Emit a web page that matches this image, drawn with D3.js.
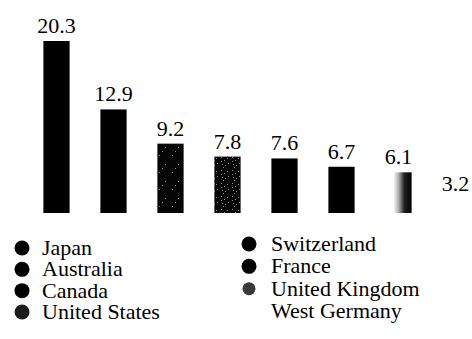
<!DOCTYPE html>
<html>
<head>
<meta charset="utf-8">
<script src="https://cdn.jsdelivr.net/npm/d3@7"></script>
</head>
<body style="margin:0">
<svg id="chart" width="472" height="339" style="display:block;background:#fff"></svg>
<script>
// Countries, in bar order
const countries = ["Japan", "Australia", "Canada", "United States",
                   "Switzerland", "France", "United Kingdom", "West Germany"];
// Values shown above each bar
const values = [20.3, 12.9, 9.2, 7.8, 7.6, 6.7, 6.1, 3.2];
// Fill used for each country (bar and legend marker)
const fills = ["solid", "solid", "grainLight", "grainHeavy",
               "solid", "solid", "fade", "none"];

const FONT = '"Liberation Serif", monospace';
// The last band runs past the right edge; its bar is blank and only its label shows
const plot = { left: 28, right: 484, top: 41, bottom: 213 };

const svg = d3.select("#chart");
const defs = svg.append("defs");

// Speckled fills
function grainPattern(id, w, h, dots) {
  const p = defs.append("pattern")
    .attr("id", id).attr("patternUnits", "userSpaceOnUse")
    .attr("width", w).attr("height", h);
  p.append("rect").attr("width", w).attr("height", h).attr("fill", "#050505");
  dots.forEach(([dx, dy]) => p.append("rect").attr("x", dx).attr("y", dy)
    .attr("width", 1).attr("height", 1).attr("fill", "#8a8a8a"));
}
grainPattern("grainLight", 13, 17, [[3, 2], [9, 11], [6, 15]]);
grainPattern("grainHeavy", 11, 13, [[1, 1], [4, 4], [2, 8], [7, 2], [3, 11], [8, 7], [5, 9], [1, 5]]);

const fade = defs.append("linearGradient").attr("id", "fade")
  .attr("x1", "0%").attr("x2", "100%").attr("y1", "0%").attr("y2", "0%");
fade.append("stop").attr("offset", "0%").attr("stop-color", "#fff");
fade.append("stop").attr("offset", "30%").attr("stop-color", "#fff");
fade.append("stop").attr("offset", "50%").attr("stop-color", "#b0b0b0");
fade.append("stop").attr("offset", "72%").attr("stop-color", "#222");
fade.append("stop").attr("offset", "100%").attr("stop-color", "#000");

function fillFor(kind) {
  if (kind === "solid") return "#000";
  if (kind === "none") return "#fff";
  return `url(#${kind})`;
}

const x = d3.scaleBand()
  .domain(countries)
  .range([plot.left, plot.right])
  .paddingInner(0.54)
  .paddingOuter(0.27);

const y = d3.scaleLinear()
  .domain([1.7, 20.3])
  .range([plot.bottom, plot.top]);

const data = countries.map((c, i) => ({ country: c, value: values[i], fill: fills[i] }));

// Bars
svg.append("g").selectAll("rect")
  .data(data)
  .join("rect")
  .attr("x", d => x(d.country))
  .attr("y", d => y(d.value))
  .attr("width", x.bandwidth())
  .attr("height", d => plot.bottom - y(d.value))
  .attr("fill", d => fillFor(d.fill));

// Value labels
svg.append("g").selectAll("text")
  .data(data)
  .join("text")
  .attr("x", d => x(d.country) + x.bandwidth() / 2)
  .attr("y", d => y(d.value) - 8)
  .attr("text-anchor", "middle")
  .style("font-family", FONT)
  .style("font-size", "22px")
  .text(d => d.value.toFixed(1));

// Legend: two columns of four
const legend = svg.append("g");
const colX = [22, 249];
const rowY = [d3.scalePoint().domain(d3.range(4)).range([248, 312]),
              d3.scalePoint().domain(d3.range(4)).range([244, 311])];

const items = legend.selectAll("g")
  .data(data)
  .join("g")
  .attr("transform", (d, i) => {
    const c = Math.floor(i / 4);
    return `translate(${colX[c]},${rowY[c](i % 4)})`;
  });

items.filter(d => d.fill !== "none")
  .append("circle")
  .attr("r", d => d.fill === "fade" ? 6.5 : 7.5)
  .attr("fill", d => d.fill === "fade" ? "#3a3a3a" : d.fill === "grainHeavy" ? "#1c1c1c" : "#000");

items.append("text")
  .attr("x", (d, i) => i < 4 ? 20 : 22)
  .attr("y", 7)
  .style("font-family", FONT)
  .style("font-size", "22px")
  .text(d => d.country);
</script>
</body>
</html>
